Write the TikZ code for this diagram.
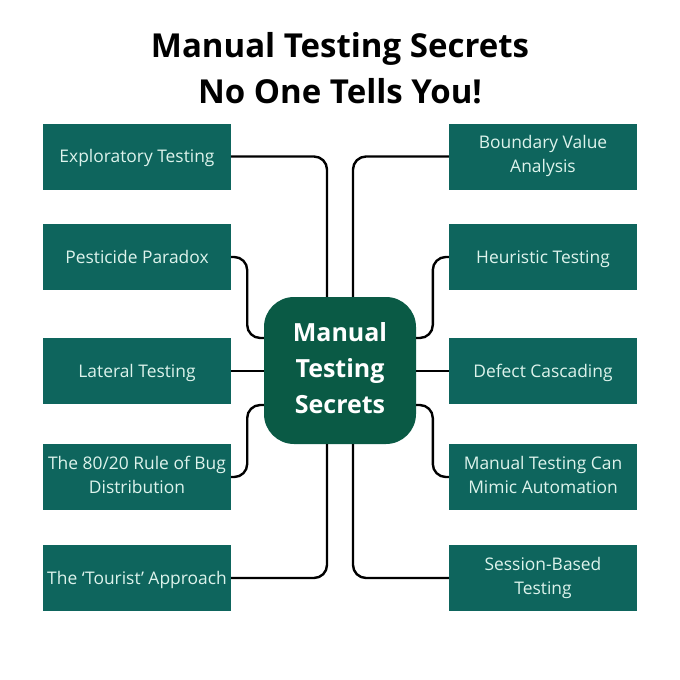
\documentclass[tikz,border=0pt]{standalone}
\usepackage{fontspec}
\setmainfont{Open Sans}
\definecolor{boxteal}{HTML}{0E655D}
\definecolor{hubgreen}{HTML}{0A5A45}
\definecolor{boxtext}{HTML}{DDF3EC}
\tikzset{
  topic/.style={fill=boxteal,draw=none,minimum width=188pt,minimum height=66pt,inner sep=0pt,
    align=center,text=boxtext,font=\fontsize{17.4}{24}\selectfont,
    execute at begin node={\rule{0pt}{17pt}},execute at end node={\rule[-4.5pt]{0pt}{4.5pt}}},
  hub/.style={fill=hubgreen,draw=none,rounded corners=30pt,minimum width=152pt,minimum height=147pt,
    inner sep=0pt,align=center,text=white,font=\fontsize{25}{36}\selectfont\bfseries,
    execute at begin node={\rule{0pt}{24pt}},execute at end node={\rule[-6pt]{0pt}{6pt}}},
  conn/.style={draw=black,line width=2.4pt,rounded corners=13pt},
  heading/.style={align=center,text=black,font=\fontsize{33}{46}\selectfont\bfseries}
}
\begin{document}
\begin{tikzpicture}[x=1pt,y=-1pt]
\useasboundingbox (0,0) rectangle (680,680);
\node[heading] (title) at (340,68) {Manual Testing Secrets\\No One Tells You!};
\node[hub] (c) at (340,370.5) {Manual\\Testing\\Secrets};
\node[topic] (l1) at (137,156.5) {Exploratory Testing};
\node[topic] (l2) at (137,257) {Pesticide Paradox};
\node[topic] (l3) at (137,371) {Lateral Testing};
\node[topic] (l4) at (137,477) {The 80/20 Rule of Bug\\Distribution};
\node[topic] (l5) at (137,578) {The ‘Tourist’ Approach};
\node[topic] (r1) at (543,156.5) {Boundary Value\\Analysis};
\node[topic] (r2) at (543,257) {Heuristic Testing};
\node[topic] (r3) at (543,371) {Defect Cascading};
\node[topic] (r4) at (543,477) {Manual Testing Can\\Mimic Automation};
\node[topic] (r5) at (543,578) {Session-Based\\Testing};
\draw[conn] (l1.east) -| ([xshift=-13pt]c.north);
\draw[conn] (r1.west) -| ([xshift=13pt]c.north);
\draw[conn] (l5.east) -| ([xshift=-13pt]c.south);
\draw[conn] (r5.west) -| ([xshift=13pt]c.south);
\draw[conn] (l2.east) -- ++(16,0) |- ([yshift=32.5pt]c.west);
\draw[conn] (r2.west) -- ++(-16,0) |- ([yshift=32.5pt]c.east);
\draw[conn] (l4.east) -- ++(16,0) |- ([yshift=-34.5pt]c.west);
\draw[conn] (r4.west) -- ++(-16,0) |- ([yshift=-34.5pt]c.east);
\draw[conn] (l3.east) -- (l3.east -| c.west);
\draw[conn] (r3.west) -- (r3.west -| c.east);
\end{tikzpicture}
\end{document}
